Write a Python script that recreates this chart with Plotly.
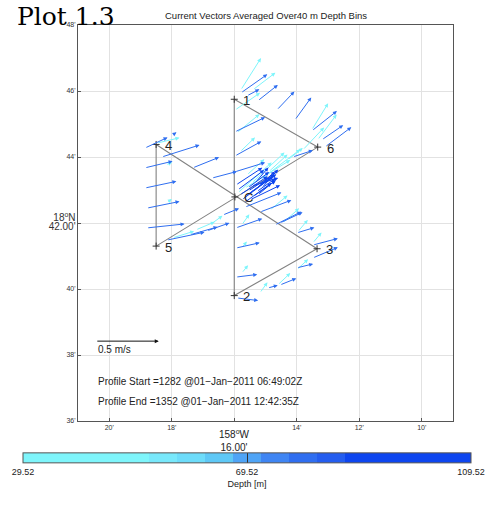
import plotly.graph_objects as go

# ---------------------------------------------------------------------------
# Survey waypoints (minutes past 158°W / 18°N)
# ---------------------------------------------------------------------------
wp_names = ["1", "2", "3", "4", "5", "6", "C"]
wp_lon_min = [16.0, 16.0, 13.35, 18.5, 18.5, 13.33, 15.98]
wp_lat_min = [45.75, 39.80, 41.22, 44.38, 41.30, 44.30, 42.79]
track_order = ["1", "2", "3", "4", "5", "6", "1"]

# ---------------------------------------------------------------------------
# ADCP current vectors, averaged over 40 m depth bins
# origin (min W, min N), east/north velocity (m/s), bin depth (m)
# ---------------------------------------------------------------------------
shallow_lon = [15.79, 15.41, 15.98, 15.92, 15.82, 13.52, 13.33, 13.81, 14.29,
               18.48, 18.19, 18.16, 17.97, 17.23, 16.78, 15.76, 15.76, 15.76,
               14.86, 14.45, 13.97, 13.49, 15.18, 14.61, 14.00,
               15.89, 15.44, 15.66, 15.18, 15.60, 14.90]
shallow_lat = [46.03, 46.03, 45.42, 44.73, 44.15, 44.82, 44.52, 44.21, 43.91,
               44.42, 43.76, 42.61, 41.55, 41.79, 41.94, 41.94, 41.24, 40.48,
               42.39, 42.00, 41.73, 41.39, 39.88, 40.12, 40.58,
               42.91, 43.21, 43.06, 43.30, 43.45, 43.55]
shallow_u = [0.16, 0.18, 0.20, 0.18, 0.12, 0.13, 0.15, 0.17, 0.12,
             0.18, 0.05, 0.04, 0.17, 0.15, 0.10, 0.06, 0.04, 0.05,
             0.14, 0.13, 0.08, 0.07, 0.06, 0.10, 0.09,
             0.27, 0.26, 0.36, 0.32, 0.14, 0.15]
shallow_v = [0.24, 0.13, 0.13, 0.14, 0.11, 0.20, 0.19, 0.17, 0.09,
             0.04, 0.02, 0.03, 0.05, 0.06, 0.07, 0.08, 0.05, 0.06,
             0.11, 0.11, 0.09, 0.08, 0.08, 0.09, 0.08,
             0.23, 0.23, 0.21, 0.23, 0.12, 0.13]
shallow_depth = [49.52] * len(shallow_lon)

deep_lon = [15.79, 15.25, 15.60, 14.64, 14.06, 13.52, 13.20, 13.10, 14.13,
            15.98, 15.98, 15.98, 18.86, 17.97, 18.86, 18.86, 18.80, 18.80,
            18.16, 18.32, 17.33, 16.72, 17.42, 16.88, 16.37, 15.95, 15.95,
            15.95, 15.92, 15.18, 14.54, 14.00, 13.49, 13.49, 14.93, 14.54,
            14.00, 15.66, 14.70]
deep_lat = [45.94, 45.70, 45.85, 45.42, 45.12, 44.79, 44.52, 44.30, 44.00,
            44.76, 44.03, 43.55, 44.27, 44.67, 43.67, 43.06, 42.45, 41.85,
            41.48, 44.00, 43.67, 43.36, 41.64, 41.76, 42.24, 41.85, 41.24,
            40.36, 39.73, 42.33, 42.00, 41.70, 41.33, 40.94, 40.03, 40.12,
            40.64, 42.48, 41.94]
deep_u = [0.21, 0.16, 0.10, 0.14, 0.13, 0.20, 0.17, 0.21, 0.16,
          0.24, 0.21, 0.24, 0.18, 0.03, 0.22, 0.25, 0.26, 0.30,
          0.30, 0.30, 0.21, 0.20, 0.22, 0.18, 0.13, 0.21, 0.19,
          0.17, 0.17, 0.25, 0.18, 0.14, 0.20, 0.20, 0.08, 0.13,
          0.13, 0.29, 0.21]
deep_v = [0.14, 0.12, 0.05, 0.14, 0.17, 0.15, 0.11, 0.15, 0.05,
          0.11, 0.11, 0.07, 0.08, 0.02, 0.05, 0.05, 0.05, 0.03,
          0.06, 0.09, 0.08, 0.05, 0.06, 0.06, 0.05, 0.07, 0.04,
          0.02, -0.02, 0.09, 0.08, 0.04, 0.05, 0.08, 0.02, 0.05,
          0.03, 0.11, 0.10]
deep_depth = [79.52] * len(deep_lon)

# station-keeping near C: many profiles piled up
station_lon = [15.76, 15.63, 15.50, 15.57, 15.44, 15.34, 15.82, 15.69,
               15.25, 15.89, 15.50, 15.12, 15.95, 15.31, 15.40, 15.28,
               15.55, 15.20]
station_lat = [42.70, 42.82, 42.91, 43.06, 43.12, 43.00, 42.85, 42.61,
               42.85, 43.00, 42.70, 43.06, 43.15, 43.24, 42.80, 42.95,
               42.97, 43.15]
station_u = [0.24, 0.22, 0.21, 0.17, 0.21, 0.16, 0.22, 0.22,
             0.14, 0.21, 0.24, 0.13, 0.21, 0.10, 0.18, 0.15,
             0.16, 0.12]
station_v = [0.17, 0.15, 0.14, 0.12, 0.06, 0.14, 0.14, 0.15,
             0.11, 0.15, 0.11, 0.14, 0.13, 0.11, 0.12, 0.10,
             0.10, 0.08]
station_depth = [99.52] * len(station_lon)

# Depth colour scale (discrete steps)
depth_min, depth_max = 29.52, 109.52
depth_edges = [29.52, 52.0, 57.0, 62.0, 67.0, 72.0, 77.0, 82.0, 87.0, 109.52]
depth_colors = ["#7ef5fb", "#78e8fb", "#6ddcfa", "#5ec8f6", "#4fa4f6",
                "#3f85f3", "#2f6ef0", "#245def", "#0d45ef"]
depth_ticks = [29.52, 69.52, 109.52]

# Axis ticks (minutes); the centre ticks carry the full degree label
lon_ticks = [20, 18, 16, 14, 12, 10]
lat_ticks = [48, 46, 44, 42, 40, 38, 36]
lon_centre, lat_centre = 16, 42

ref_speed = 0.5
ARROW_MIN_PER_MS = 4.03  # map-minutes drawn per 1 m/s

FONT = "Liberation Sans"


def lon_deg(m):
    return -(158.0 + m / 60.0)


def lat_deg(m):
    return 18.0 + m / 60.0


def depth_color(d):
    for i in range(len(depth_colors)):
        if d <= depth_edges[i + 1]:
            return depth_colors[i]
    return depth_colors[-1]


def norm(d):
    return (d - depth_min) / (depth_max - depth_min)


colorscale = []
for i, c in enumerate(depth_colors):
    colorscale.append([norm(depth_edges[i]), c])
    colorscale.append([norm(depth_edges[i + 1]), c])
colorscale[0][0] = 0.0
colorscale[-1][0] = 1.0

fig = go.Figure()

# Track lines
wp = {n: (lon_deg(a), lat_deg(b)) for n, a, b in zip(wp_names, wp_lon_min, wp_lat_min)}
fig.add_trace(go.Scatter(
    x=[wp[n][0] for n in track_order], y=[wp[n][1] for n in track_order],
    mode="lines", line=dict(color="#828282", width=1.1),
    hoverinfo="skip", showlegend=False))

# Colour bar holder
fig.add_trace(go.Scatter(
    x=[lon_deg(5)], y=[lat_deg(50)], mode="markers",
    marker=dict(size=1, color=[depth_min], cmin=depth_min, cmax=depth_max,
                colorscale=colorscale, showscale=True,
                colorbar=dict(
                    orientation="h", thickness=10, thicknessmode="pixels",
                    len=448, lenmode="pixels", x=0.4507, xanchor="center",
                    y=-0.1263, yanchor="middle", xpad=0, ypad=0,
                    tickvals=depth_ticks,
                    ticktext=["%.2f" % t for t in depth_ticks],
                    ticks="inside", ticklen=10, tickcolor="#333",
                    tickfont=dict(size=9, color="#222", family=FONT),
                    outlinewidth=1, outlinecolor="#555",
                    title=dict(text="Depth [m]", side="bottom",
                               font=dict(size=9, color="#222", family=FONT)),
                )),
    hoverinfo="skip", showlegend=False))

annotations = []


def add_vectors(lons, lats, us, vs, depths):
    for lo, la, u, v, d in zip(lons, lats, us, vs, depths):
        x0, y0 = lon_deg(lo), lat_deg(la)
        x1 = lon_deg(lo - u * ARROW_MIN_PER_MS)
        y1 = lat_deg(la + v * ARROW_MIN_PER_MS)
        annotations.append(dict(
            x=x1, y=y1, ax=x0, ay=y0, xref="x", yref="y", axref="x", ayref="y",
            text="", showarrow=True, arrowhead=2, arrowsize=0.8, arrowwidth=1.0,
            arrowcolor=depth_color(d), standoff=0, startstandoff=0))


add_vectors(shallow_lon, shallow_lat, shallow_u, shallow_v, shallow_depth)
add_vectors(deep_lon, deep_lat, deep_u, deep_v, deep_depth)
add_vectors(station_lon, station_lat, station_u, station_v, station_depth)

# Waypoint markers
fig.add_trace(go.Scatter(
    x=[wp[n][0] for n in wp_names], y=[wp[n][1] for n in wp_names],
    mode="markers",
    marker=dict(symbol="cross-thin", size=5, line=dict(color="#333", width=1)),
    hoverinfo="skip", showlegend=False))

# Waypoint labels
for n in wp_names:
    annotations.append(dict(
        x=wp[n][0], y=wp[n][1], xref="x", yref="y", text=n, showarrow=False,
        xanchor="left", yanchor="middle", xshift=7, yshift=-1,
        font=dict(size=13, color="#222", family=FONT)))

# Reference arrow
ref_lon, ref_lat = 20.43, 38.42
annotations.append(dict(
    x=lon_deg(ref_lon - ref_speed * ARROW_MIN_PER_MS), y=lat_deg(ref_lat),
    ax=lon_deg(ref_lon), ay=lat_deg(ref_lat), xref="x", yref="y",
    axref="x", ayref="y", text="", showarrow=True, arrowhead=2,
    arrowsize=0.8, arrowwidth=1.0, arrowcolor="#111", standoff=0))
annotations.append(dict(
    x=lon_deg(ref_lon), y=lat_deg(ref_lat), xref="x", yref="y",
    text="%.1f m/s" % ref_speed, showarrow=False, xanchor="left", yanchor="top",
    yshift=-1, font=dict(size=10, color="#222", family=FONT)))

# Profile info
annotations.append(dict(
    x=0.048, y=0.101, xref="paper", yref="paper", xanchor="left", yanchor="middle",
    text="Profile Start =1282 @01−Jan−2011 06:49:02Z", showarrow=False,
    font=dict(size=10, color="#222", family=FONT)))
annotations.append(dict(
    x=0.048, y=0.048, xref="paper", yref="paper", xanchor="left", yanchor="middle",
    text="Profile End =1352 @01−Jan−2011 12:42:35Z", showarrow=False,
    font=dict(size=10, color="#222", family=FONT)))

# Centre longitude label under the axis
annotations.append(dict(
    x=lon_deg(lon_centre), y=0, xref="x", yref="paper", xanchor="center",
    yanchor="top", yshift=-5,
    text="158<sup>o</sup>W<br>%.2f'" % lon_centre, showarrow=False,
    font=dict(size=10, color="#222", family=FONT)))

# Titles
annotations.append(dict(
    x=0.501, y=1.025, xref="paper", yref="paper", xanchor="center", yanchor="middle",
    text="Current Vectors Averaged Over40 m Depth Bins", showarrow=False,
    font=dict(size=9.5, color="#222", family=FONT)))
annotations.append(dict(
    x=-0.168, y=1.063, xref="paper", yref="paper", xanchor="left", yanchor="top",
    text="Plot 1.3", showarrow=False,
    font=dict(size=25, color="#000", family="DejaVu Serif")))

big = "<span style='font-size:10px'>%s</span>"
lon_text = ["" if m == lon_centre else "%d'" % m for m in lon_ticks]
lat_text = [(big % "18<sup>o</sup>N") + "<br>" + (big % ("%.2f'" % lat_centre))
            if m == lat_centre else "%d'" % m for m in lat_ticks]

axis_common = dict(showgrid=True, gridcolor="#e2e2e2", gridwidth=1, zeroline=False,
                   showline=True, linecolor="#555", linewidth=1, mirror=True,
                   ticks="inside", ticklen=3, tickcolor="#555",
                   tickfont=dict(size=7, color="#333", family=FONT))

fig.update_layout(
    width=490, height=508,
    margin=dict(l=78, r=37, t=25, b=87),
    paper_bgcolor="white", plot_bgcolor="white",
    xaxis=dict(range=[lon_deg(21), lon_deg(9)], tickvals=[lon_deg(m) for m in lon_ticks],
               ticktext=lon_text, **axis_common),
    yaxis=dict(range=[lat_deg(36), lat_deg(48)], tickvals=[lat_deg(m) for m in lat_ticks],
               ticktext=lat_text, **axis_common),
    annotations=annotations,
    showlegend=False,
)

fig.write_html("out.html")
